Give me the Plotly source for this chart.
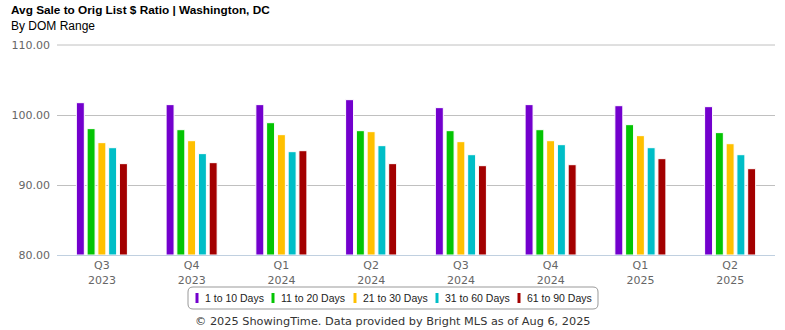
import plotly.graph_objects as go

# Quarter categories along the x axis
quarters = ["Q3<br>2023", "Q4<br>2023", "Q1<br>2024", "Q2<br>2024",
            "Q3<br>2024", "Q4<br>2024", "Q1<br>2025", "Q2<br>2025"]

# Average sale-to-original-list-price ratio (%) per days-on-market range
days_1_10 = [101.76, 101.48, 101.48, 102.19, 101.05, 101.48, 101.33, 101.19]
days_11_20 = [98.05, 97.90, 98.90, 97.76, 97.76, 97.90, 98.62, 97.48]
days_21_30 = [96.05, 96.33, 97.19, 97.62, 96.19, 96.33, 97.05, 95.90]
days_31_60 = [95.33, 94.48, 94.76, 95.62, 94.33, 95.76, 95.33, 94.33]
days_61_90 = [93.05, 93.19, 94.90, 93.05, 92.76, 92.90, 93.76, 92.33]

series_names = ["1 to 10 Days", "11 to 20 Days", "21 to 30 Days",
                "31 to 60 Days", "61 to 90 Days"]
series_values = [days_1_10, days_11_20, days_21_30, days_31_60, days_61_90]
series_colors = ["#7300cd", "#04c404", "#ffc000", "#00bec7", "#a30000"]

y_ticks = [80, 90, 100, 110]

W, H = 785, 330
M_L, M_R, M_T, M_B = 57, 10, 45, 75
PW, PH = W - M_L - M_R, H - M_T - M_B


def px_x(px):
    return (px - M_L) / PW


def px_y(py):
    return (H - M_B - py) / PH


fig = go.Figure()
for name, vals, col in zip(series_names, series_values, series_colors):
    fig.add_trace(go.Bar(
        x=quarters, y=[v - 80 for v in vals], base=80, name=name,
        marker=dict(color=col, line=dict(color="white", width=1)),
        showlegend=False,
    ))

# Top gridline (y = 110) lies on the plot's upper edge, so draw it in paper space
shapes = [dict(type="line", xref="paper", yref="paper", x0=0, x1=1,
               y0=1, y1=1, line=dict(color="#c0c0c0", width=1))]

# Legend drawn as a rounded box with bar swatches
bx0, bx1, by0, by1, r = 188, 598, 287, 309, 5
path = (f"M {px_x(bx0 + r)} {px_y(by0)} L {px_x(bx1 - r)} {px_y(by0)} "
        f"Q {px_x(bx1)} {px_y(by0)} {px_x(bx1)} {px_y(by0 + r)} "
        f"L {px_x(bx1)} {px_y(by1 - r)} "
        f"Q {px_x(bx1)} {px_y(by1)} {px_x(bx1 - r)} {px_y(by1)} "
        f"L {px_x(bx0 + r)} {px_y(by1)} "
        f"Q {px_x(bx0)} {px_y(by1)} {px_x(bx0)} {px_y(by1 - r)} "
        f"L {px_x(bx0)} {px_y(by0 + r)} "
        f"Q {px_x(bx0)} {px_y(by0)} {px_x(bx0 + r)} {px_y(by0)} Z")
shapes.append(dict(type="path", path=path, xref="paper", yref="paper",
                   line=dict(color="#999999", width=1), fillcolor="white"))
annotations = []
swatch_x = [195.5, 271.5, 353.5, 435.5, 517.5]
text_x = [203, 279, 360.5, 442.5, 525]
for sx, tx, name, col in zip(swatch_x, text_x, series_names, series_colors):
    shapes.append(dict(type="rect", xref="paper", yref="paper",
                       x0=px_x(sx), x1=px_x(sx + 3), y0=px_y(293), y1=px_y(303),
                       fillcolor=col, line=dict(width=0)))
    annotations.append(dict(text=name, xref="paper", yref="paper",
                            x=px_x(tx), y=px_y(298), xanchor="left", yanchor="middle",
                            showarrow=False,
                            font=dict(family="Liberation Sans", size=10.5, color="#222222")))

annotations.append(dict(
    text="© 2025 ShowingTime. Data provided by Bright MLS as of Aug 6, 2025",
    xref="paper", yref="paper", x=px_x(392.5), y=px_y(321),
    xanchor="center", yanchor="middle", showarrow=False,
    font=dict(family="DejaVu Sans", size=11.3, color="#333333")))

annotations.append(dict(
    text="<b>Avg Sale to Orig List $ Ratio | Washington, DC</b>",
    xref="paper", yref="paper", x=px_x(9), y=px_y(10),
    xanchor="left", yanchor="middle", showarrow=False,
    font=dict(family="Liberation Sans", size=11.8, color="#000000")))
annotations.append(dict(
    text="By DOM Range",
    xref="paper", yref="paper", x=px_x(9), y=px_y(25.5),
    xanchor="left", yanchor="middle", showarrow=False,
    font=dict(family="Liberation Sans", size=12, color="#000000")))

fig.update_layout(
    width=W, height=H,
    margin=dict(l=M_L, r=M_R, t=M_T, b=M_B),
    paper_bgcolor="white", plot_bgcolor="white",
    barmode="group", bargap=0.40, bargroupgap=0.26,
    shapes=shapes, annotations=annotations,
    xaxis=dict(showline=True, linecolor="#c0d0e0", linewidth=1,
               showgrid=False, ticks="",
               tickfont=dict(family="DejaVu Sans", size=11, color="#666666")),
    yaxis=dict(range=[80, 110], tickvals=y_ticks, tickformat=".2f",
               showgrid=True, gridcolor="#c0c0c0", gridwidth=1,
               zeroline=False, showline=False, ticks="",
               ticklabelstandoff=6,
               tickfont=dict(family="DejaVu Sans", size=11, color="#666666")),
)

fig.write_html("out.html")
